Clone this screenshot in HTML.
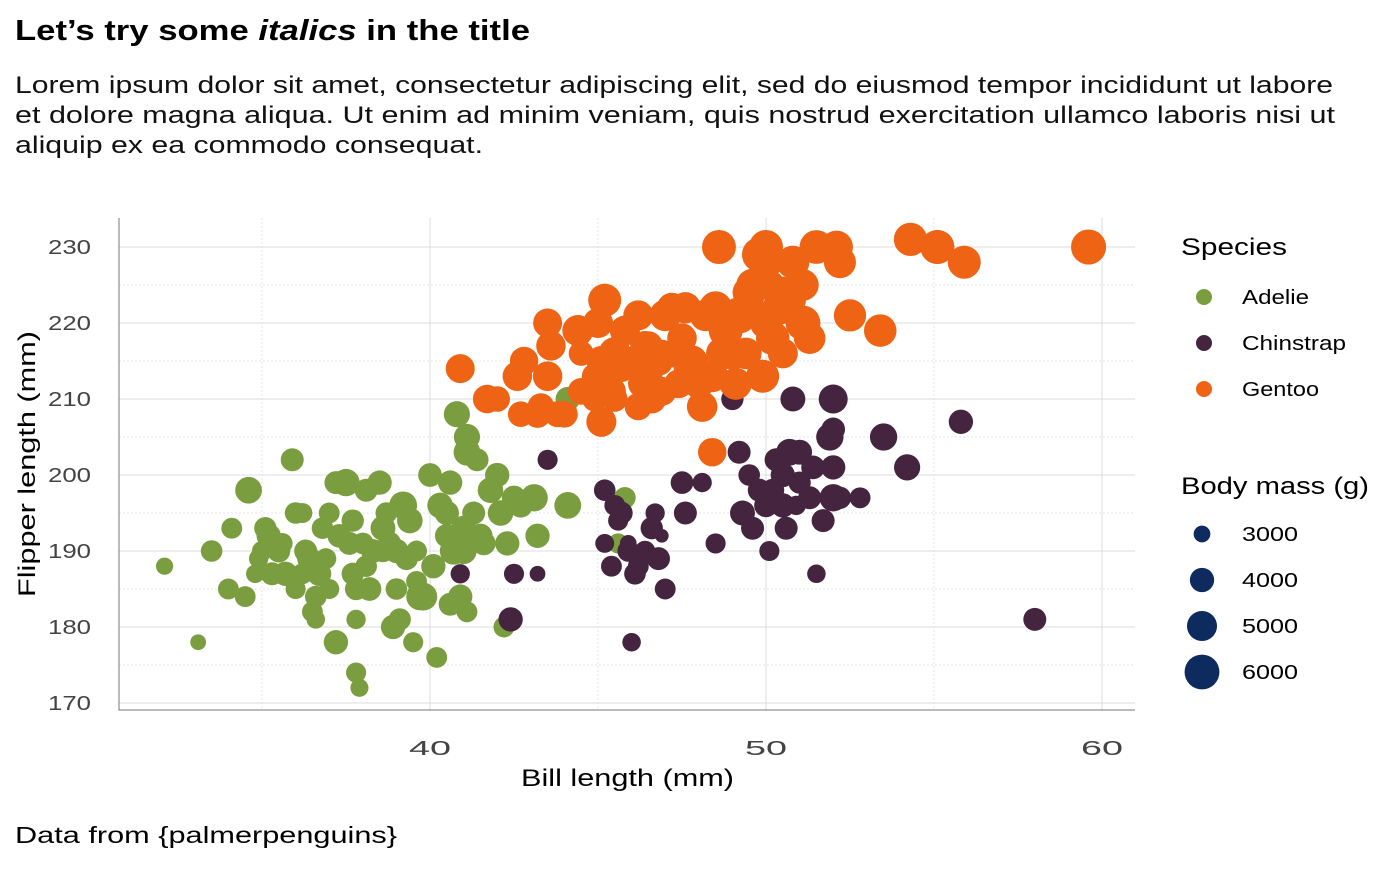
<!DOCTYPE html>
<html><head><meta charset="utf-8"><style>
body{margin:0;background:#fff;font-family:"Liberation Sans",sans-serif;}
svg text{font-family:"Liberation Sans",sans-serif;}
</style></head><body>
<svg id="chart" width="1400" height="865">
<text x="15" y="40" font-size="29" font-weight="bold" fill="#000" textLength="515" lengthAdjust="spacingAndGlyphs">Let’s try some <tspan font-style="italic">italics</tspan> in the title</text>
<text font-size="24" fill="#111"><tspan x="15" y="93" textLength="1318" lengthAdjust="spacingAndGlyphs">Lorem ipsum dolor sit amet, consectetur adipiscing elit, sed do eiusmod tempor incididunt ut labore</tspan><tspan x="15" y="123" textLength="1320" lengthAdjust="spacingAndGlyphs">et dolore magna aliqua. Ut enim ad minim veniam, quis nostrud exercitation ullamco laboris nisi ut</tspan><tspan x="15" y="153" textLength="468" lengthAdjust="spacingAndGlyphs">aliquip ex ea commodo consequat.</tspan></text>
<g id="grid"></g><g id="pts"></g><g id="axes"></g>
<text x="521" y="786" font-size="24" textLength="213" lengthAdjust="spacingAndGlyphs">Bill length (mm)</text>
<text transform="translate(35,597) rotate(-90)" font-size="24" textLength="266" lengthAdjust="spacingAndGlyphs">Flipper length (mm)</text>
<text x="15" y="843" font-size="23" textLength="382" lengthAdjust="spacingAndGlyphs">Data from {palmerpenguins}</text>
<g>
<text x="1181" y="255" font-size="24" textLength="106" lengthAdjust="spacingAndGlyphs">Species</text>
<circle cx="1204" cy="297" r="8" fill="#7A9E3F"/><text x="1242" y="304" font-size="20" textLength="67" lengthAdjust="spacingAndGlyphs">Adelie</text>
<circle cx="1204" cy="343" r="8" fill="#45243F"/><text x="1242" y="350" font-size="20" textLength="104" lengthAdjust="spacingAndGlyphs">Chinstrap</text>
<circle cx="1204" cy="389" r="8" fill="#EF6414"/><text x="1242" y="396" font-size="20" textLength="77" lengthAdjust="spacingAndGlyphs">Gentoo</text>
</g>
<g id="sizeleg">
<text x="1181" y="494" font-size="24" textLength="188" lengthAdjust="spacingAndGlyphs">Body mass (g)</text>
</g>
</svg>
<script>
const xTicks=[40,50,60];
const yTicks=[170,180,190,200,210,220,230];
const sizeBreaks=[3000,4000,5000,6000];
const adelie=[[32.1,188,3050],[33.1,178,2900],[33.5,190,3600],[34,185,3500],[34.1,193,3500],[34.5,184,3500],[34.6,198,4400],[34.8,187,3200],[34.9,189,3300],[35,190,3400],[35.2,192,4000],[35.3,187,3800],[35.5,190,3800],[35.6,191,3500],[35.7,187,4000],[35.9,202,3800],[36,185,3400],[36,195,3600],[36.2,187,3500],[36.3,190,3800],[36.4,189,3900],[36.5,182,3500],[36.6,184,3600],[36.6,181,3200],[36.7,187,4000],[36.8,193,3600],[37,185,3400],[37,195,3500],[37.2,178,4000],[37.3,192,3900],[37.5,199,4500],[37.6,191,3800],[37.7,194,3700],[37.8,185,3700],[37.8,181,3300],[37.9,172,3150],[37.8,174,3400],[38,191,3600],[38.1,188,3600],[38.1,198,3800],[38.2,185,3900],[38.5,199,4000],[38.6,190,3700],[38.7,195,3600],[38.8,191,3800],[38.9,180,4000],[39,185,3600],[39.1,181,3700],[39.2,196,4600],[39.3,189,3800],[39.5,178,3400],[39.6,190,3500],[39.7,184,4500],[39.8,184,4600],[40,200,3900],[40.1,188,4000],[40.2,176,3500],[40.3,196,4200],[40.5,195,4000],[40.6,199,4000],[40.6,183,3800],[40.8,208,4300],[40.9,184,4000],[41,190,4300],[41.1,205,4300],[41.1,203,4400],[41.1,182,3500],[41.3,195,3800],[41.4,202,3800],[41.5,192,4000],[41.6,191,3900],[41.8,198,4200],[42,200,4000],[42.1,195,4200],[42.2,180,3500],[42.3,191,4000],[42.5,197,4000],[42.7,196,4000],[43.1,197,4500],[43.2,192,4000],[44.1,196,4400],[44.1,210,4000],[45.8,197,3600],[37.2,199,3800],[38.6,193,4100],[39.6,186,3500],[36.2,195,3400],[39,190,4000],[40.5,192,3900],[41,193,4100],[37.7,187,3700],[38.3,190,3900],[39.4,194,4200],[40.7,190,4500],[35.1,193,3700],[36.9,189,3500],[45.6,191,3400]];
const chinstrap=[[40.9,187,3300],[42.4,181,4000],[42.5,187,3400],[43.2,187,2900],[43.5,202,3400],[45.2,198,3600],[45.2,191,3250],[45.4,188,3500],[45.5,196,3500],[45.6,194,3400],[45.7,195,3700],[45.9,190,3600],[46,178,3200],[46.1,187,3600],[46.4,190,3450],[46.6,193,3700],[46.7,195,3300],[46.8,189,3800],[46.9,192,2700],[47,185,3500],[47.5,199,3750],[47.6,195,3800],[48.1,199,3300],[48.5,191,3400],[49,212,4300],[49,210,3700],[49.2,203,3800],[49.3,195,4100],[49.5,200,3600],[49.6,193,3800],[49.8,198,3800],[50,196,3900],[50.1,190,3400],[50.2,198,3800],[50.3,202,3800],[50.5,196,4000],[50.6,193,3800],[50.7,203,4400],[50.8,210,4100],[50.9,196,3300],[51,203,4100],[51.3,197,3800],[51.4,201,3900],[51.5,187,3200],[51.7,194,3800],[51.9,205,4500],[52,197,4500],[52,201,4000],[52,210,4800],[52,206,3900],[52.2,197,3700],[52.8,197,3500],[53.5,205,4500],[54.2,201,4300],[55.8,207,4000],[58,181,3800],[50.5,200,4000],[51,199,3700],[45.9,191,3000],[46.2,188,3500]];
const gentoo=[[40.9,214,4800],[41.7,210,4700],[42,210,4200],[42.6,213,4900],[42.7,208,4200],[42.8,215,4700],[43.2,208,4500],[43.3,209,4400],[43.5,220,4800],[43.6,217,4900],[43.8,208,4300],[44,208,4400],[44.4,219,5200],[44.5,216,4100],[44.9,213,4200],[45,220,5000],[45.1,215,5000],[45.2,223,5600],[45.1,207,5000],[45.3,212,4800],[45.4,211,4800],[45.5,210,4200],[45.5,216,5500],[45.7,214,4400],[45.8,219,5000],[46.1,215,5000],[46.2,221,5000],[46.2,209,4500],[46.3,212,4500],[46.4,217,4900],[46.5,210,4400],[46.5,213,4600],[46.6,210,4800],[46.8,215,4900],[46.9,216,4500],[47.2,222,5000],[47.3,216,4700],[47.4,212,4750],[47.5,218,4900],[47.6,222,5250],[47.7,214,5000],[47.8,215,5200],[48.1,209,5100],[48.2,221,5300],[48.4,213,5400],[48.5,222,5600],[48.6,230,5800],[48.7,216,5500],[48.8,219,5800],[49,216,5500],[49.1,212,5400],[49.2,221,6300],[49.4,216,5300],[49.5,224,5650],[49.6,225,5500],[49.8,229,5950],[49.9,213,5600],[50,220,5400],[50,230,5800],[50.1,225,5000],[50.2,218,5700],[50.4,222,5750],[50.5,224,5400],[50.5,216,5000],[50.7,223,5550],[50.8,228,5600],[51.1,220,6000],[51.1,225,5300],[51.3,218,5300],[51.5,230,5750],[52.1,230,5550],[52.2,228,5400],[52.5,221,5450],[53.4,219,5500],[54.3,231,5650],[55.1,230,5850],[55.9,228,5600],[59.6,230,6050],[48.4,203,4700],[43.5,213,4900],[44.9,210,4100],[46.9,211,4800],[45.2,214,4600],[46.5,217,4800],[48,212,5000],[49.5,222,5200],[50,228,5600],[47,221,5300],[44.5,211,4400]];
const NS="http://www.w3.org/2000/svg";
const X0=119,X1=1135,Y0=218,Y1=710;
const xs=v=>430+(v-40)*33.6;
const ys=v=>247+(230-v)*7.6;
const rs=m=>Math.sqrt(Math.max(25,70+78*(m-3000)/1000));
function mk(p,tag,a){const e=document.createElementNS(NS,tag);for(const k in a)e.setAttribute(k,a[k]);p.appendChild(e);return e;}
const grid=document.getElementById('grid');
const axes=document.getElementById('axes');
for(let v=35;v<=60;v+=5){const major=v%10===0;
 const l=mk(grid,'line',{x1:xs(v),x2:xs(v),y1:Y0,y2:Y1,stroke:major?'#dcdcdc':'#e6e6e6','stroke-width':1,'stroke-dasharray':major?'':'2,2'});
 
 }
for(let v=170;v<=230;v+=5){const major=v%10===0;
 const l=mk(grid,'line',{x1:X0,x2:X1,y1:ys(v),y2:ys(v),stroke:major?'#dcdcdc':'#e6e6e6','stroke-width':1,'stroke-dasharray':major?'':'2,2'});
 
 }
const ax=mk(axes,'path',{d:`M${X0},${Y0}V${Y1}H${X1}`,fill:'none',stroke:'#777','stroke-width':1});


xTicks.forEach(v=>{const t=mk(axes,'text',{x:xs(v)-21,y:Y1+45,'font-size':20,fill:'#444',textLength:42,lengthAdjust:'spacingAndGlyphs'});t.textContent=v;
 
 });
yTicks.forEach(v=>{const t=mk(axes,'text',{x:X0-71,y:ys(v)+7,'font-size':20,fill:'#444',textLength:43,lengthAdjust:'spacingAndGlyphs'});t.textContent=v;
 
 });
const pts=document.getElementById('pts');
[[adelie,'#7A9E3F','adelie'],[chinstrap,'#45243F','chinstrap'],[gentoo,'#EF6414','gentoo']].forEach(([arr,col,nm])=>{
 arr.forEach(d=>{const c=mk(pts,'circle',{cx:xs(d[0]),cy:ys(d[1]),r:rs(d[2]),fill:col});
  
  });});
const sl=document.getElementById('sizeleg');
sizeBreaks.forEach((m,i)=>{const y=534+i*46;
 const c=mk(sl,'circle',{cx:1202,cy:y,r:rs(m),fill:'#0D2B5E'});
 
 
 const t=mk(sl,'text',{x:1242,y:y+7,'font-size':20,textLength:56,lengthAdjust:'spacingAndGlyphs'});t.textContent=m;
 
 });
</script>
</body></html>
